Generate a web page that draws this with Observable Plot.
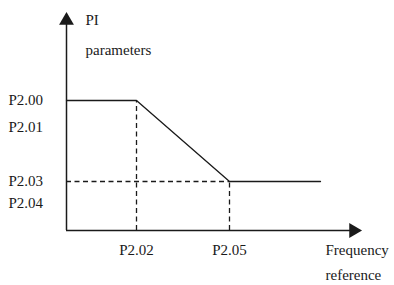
<!DOCTYPE html>
<html><head><meta charset="utf-8">
<script src="https://cdn.jsdelivr.net/npm/d3@7"></script>
<script src="https://cdn.jsdelivr.net/npm/@observablehq/plot@0.6"></script>
<style>body{margin:0;background:#fff}</style>
</head><body><div id="chart"></div>
<script>
// x positions (frequency reference): P2.02 and P2.05 breakpoints
const xTickLabels = ["P2.02", "P2.05"];
const xBreaks = [70, 163];
const xLineEnd = 254;
const xAxisEnd = 292;
// y levels (PI parameters)
const yHighLabels = ["P2.00", "P2.01"];
const yLowLabels = ["P2.03", "P2.04"];
const yHigh = 130;
const yLow = 49;
const yAxisEnd = 215;

const curve = [
  {x: 0, y: yHigh},
  {x: xBreaks[0], y: yHigh},
  {x: xBreaks[1], y: yLow},
  {x: xLineEnd, y: yLow}
];
const font = "'Liberation Serif', 'Times New Roman', serif";
const ink = "#1a1a1a";
const fs = 15;
const txt = {textAnchor: "start", fontSize: fs, fill: ink, fontFamily: font};

const chart = Plot.plot({
  width: 394, height: 285,
  margin: 0,
  x: {domain: [-66, 328], axis: null},
  y: {domain: [-55, 230], axis: null},
  style: {fontFamily: font, background: "#fff"},
  marks: [
    // axes
    Plot.ruleY([0], {x1: 0, x2: xAxisEnd - 8, stroke: ink, strokeWidth: 1.5}),
    Plot.ruleX([0], {y1: 0, y2: yAxisEnd - 8, stroke: ink, strokeWidth: 1.5}),
    Plot.dot([{x: xAxisEnd - 5, y: 0}], {x: "x", y: "y", symbol: "triangle", r: 5.5, fill: ink, stroke: null, rotate: 90}),
    Plot.dot([{x: 0, y: yAxisEnd - 5}], {x: "x", y: "y", symbol: "triangle", r: 5.5, fill: ink, stroke: null}),
    // dashed guides
    Plot.ruleY([yLow], {x1: 0, x2: xBreaks[1], stroke: ink, strokeWidth: 1.5, strokeDasharray: "5,3.5"}),
    Plot.ruleX([xBreaks[0]], {y1: 0, y2: yHigh, stroke: ink, strokeWidth: 1.3, strokeDasharray: "5,3.5"}),
    Plot.ruleX([xBreaks[1]], {y1: 0, y2: yLow, stroke: ink, strokeWidth: 1.3, strokeDasharray: "5,3.5"}),
    // curve
    Plot.line(curve, {x: "x", y: "y", stroke: ink, strokeWidth: 1.3}),
    // y labels
    Plot.text(yHighLabels, {...txt, x: -58, y: (d, i) => yHigh - i * 27, text: d => d}),
    Plot.text(yLowLabels, {...txt, x: -58, y: (d, i) => yLow - i * 22, text: d => d}),
    // x labels
    Plot.text(xTickLabels, {...txt, x: (d, i) => xBreaks[i], y: -20, text: d => d, textAnchor: "middle"}),
    // axis titles
    Plot.text(["PI", "parameters"], {...txt, x: 19, y: (d, i) => 210 - i * 30, text: d => d}),
    Plot.text(["Frequency", "reference"], {...txt, x: 259, y: (d, i) => -20 - i * 25, text: d => d})
  ]
});
document.getElementById("chart").append(chart);
</script></body></html>
